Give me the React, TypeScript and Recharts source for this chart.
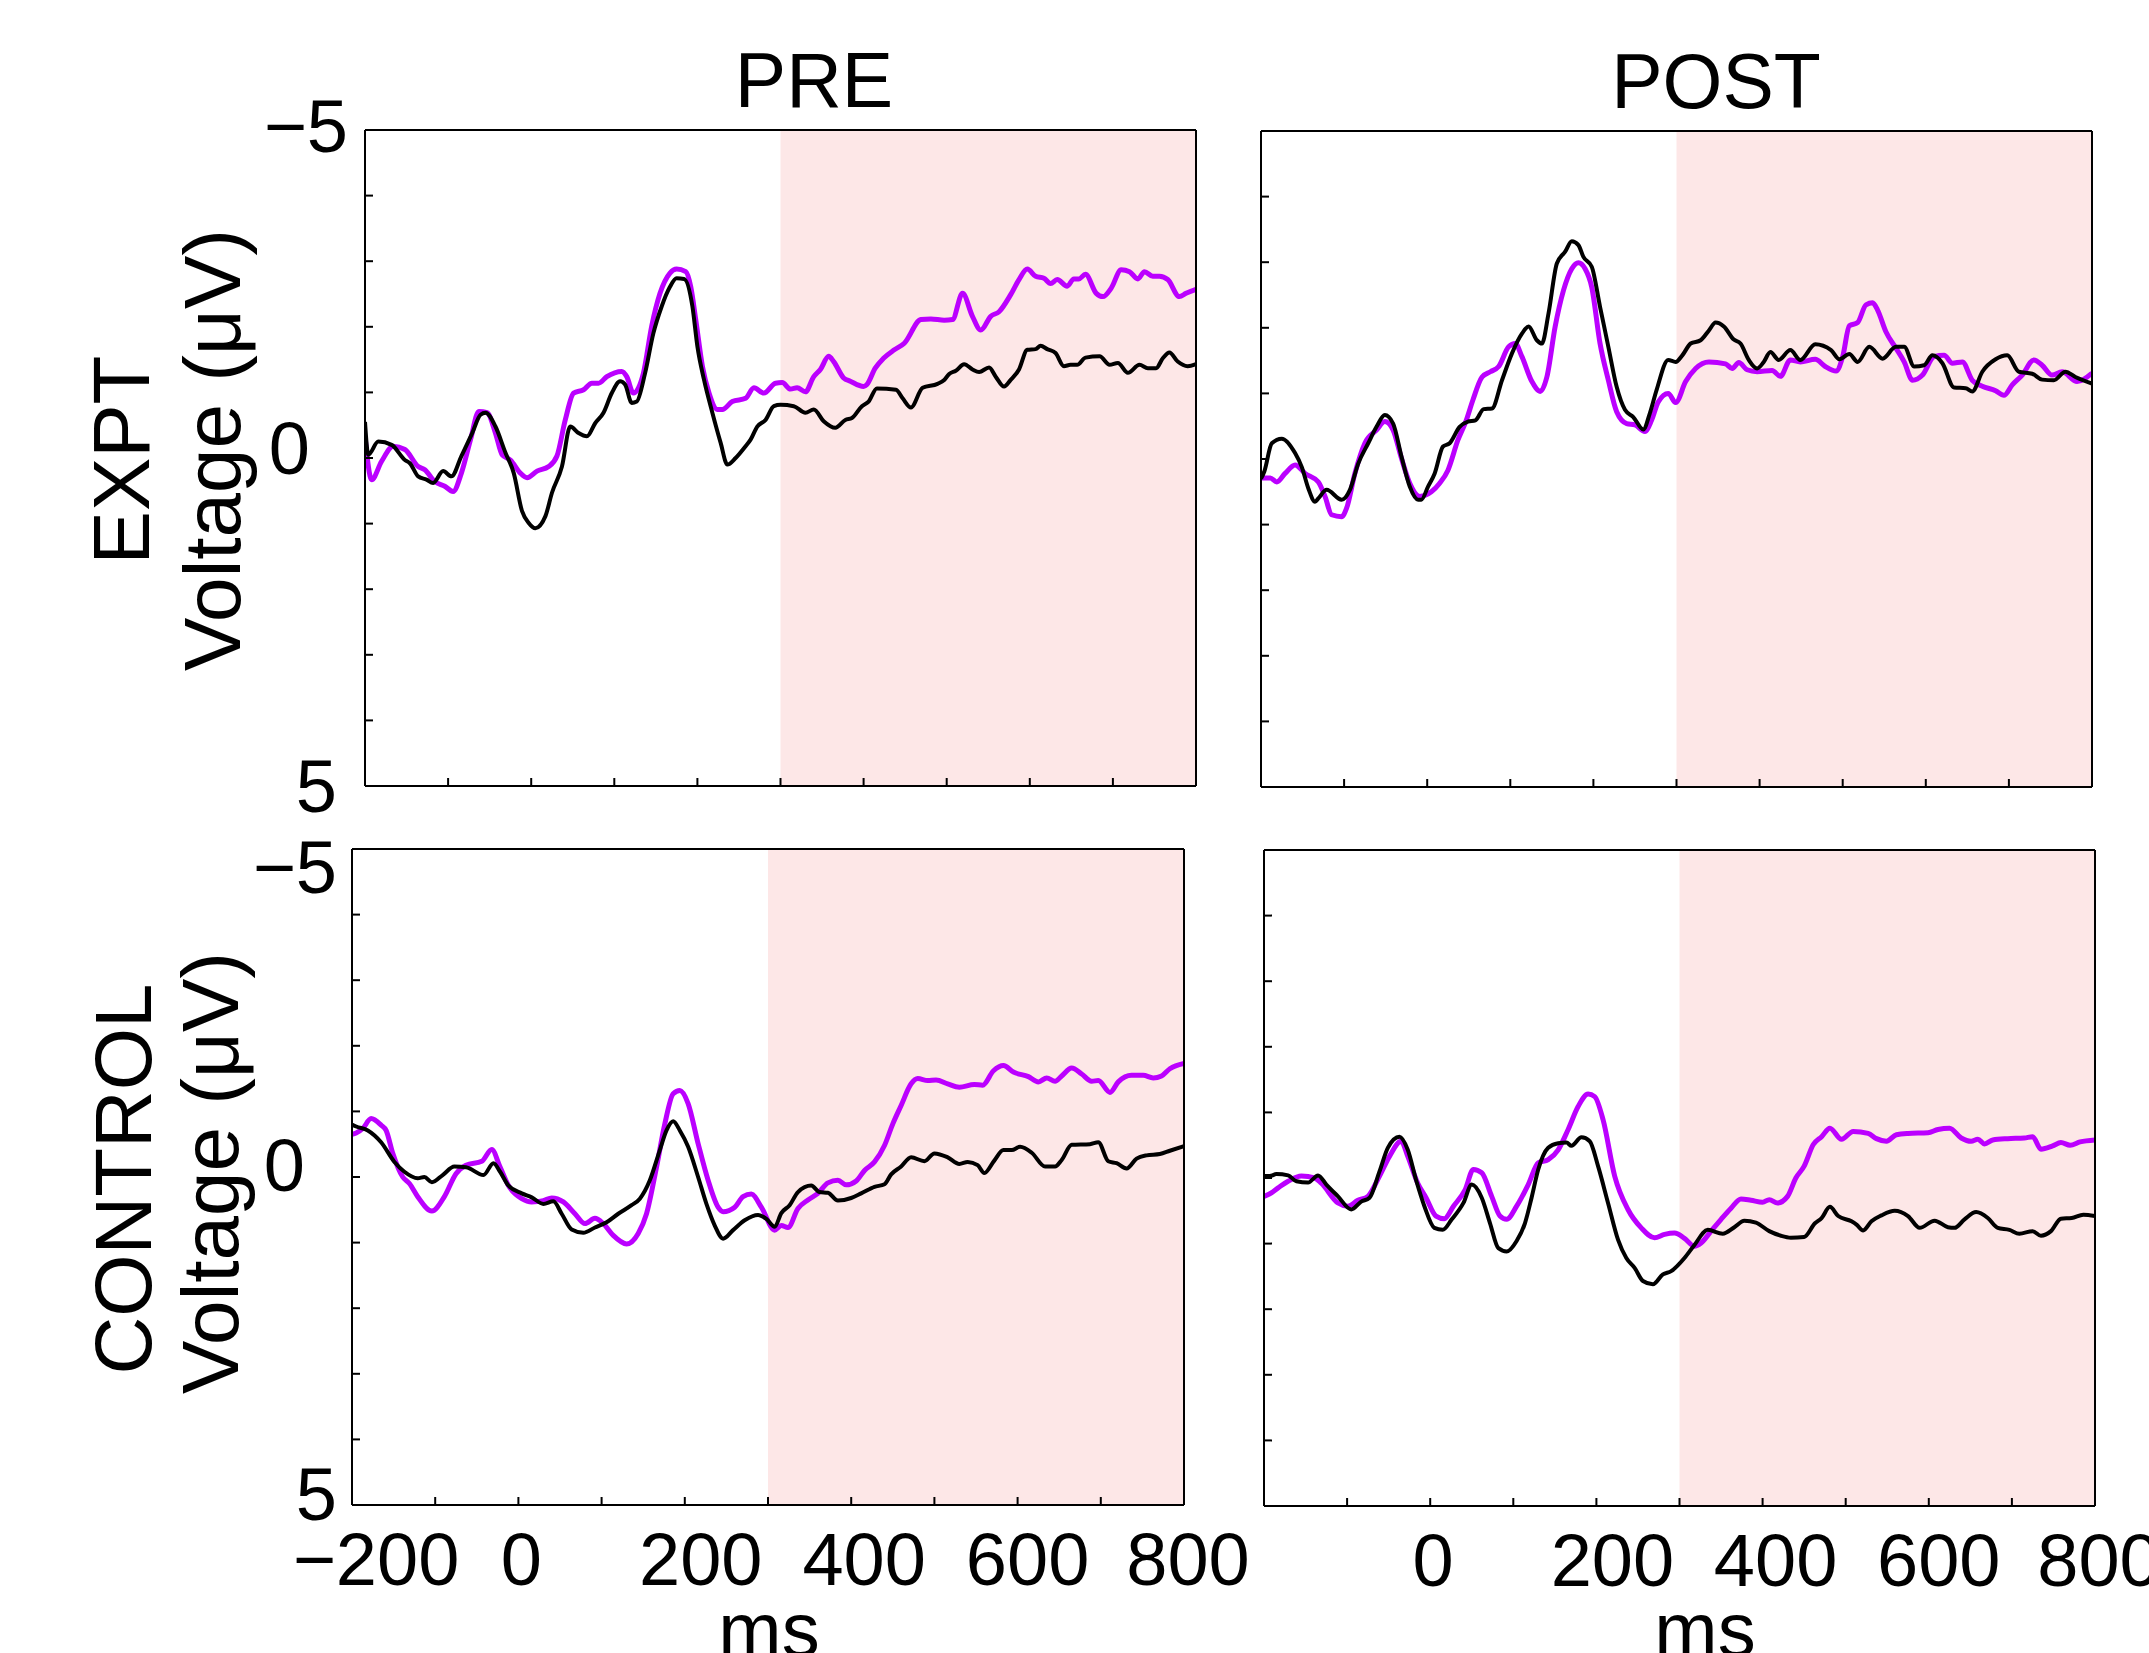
import React from "react";
import { LineChart, Line, XAxis, YAxis, ReferenceArea, ReferenceLine } from "recharts";

type Pt = [number, number];

// axes
const xTicks = [-200, -100, 0, 100, 200, 300, 400, 500, 600, 700, 800];
const xTickLabels = [-200, 0, 200, 400, 600, 800];
const yTicks = [-5, -4, -3, -2, -1, 0, 1, 2, 3, 4, 5];
const yTickLabels = [-5, 0, 5];
const windowStart = 300;
const windowEnd = 800;

// PRE / EXPT  [ms, µV]
const preExptViolet: Pt[] = [
  [-200, -0.33], [-192, 0.33], [-180, 0.05], [-166, -0.18], [-152, -0.13], [-136, 0.13], [-128, 0.18],
  [-116, 0.36], [-104, 0.43], [-94, 0.51], [-84, 0.23], [-73, -0.28], [-63, -0.71], [-53, -0.69],
  [-43, -0.38], [-35, -0.05], [-25, 0.03], [-13, 0.23], [-5, 0.3], [7, 0.2], [21, 0.13], [31, -0.03],
  [41, -0.58], [51, -0.99], [63, -1.04], [73, -1.14], [81, -1.14], [91, -1.24], [109, -1.32], [115, -1.24],
  [123, -0.99], [135, -1.29], [145, -2.01], [155, -2.51], [167, -2.82], [175, -2.88], [186, -2.84],
  [192, -2.61], [198, -2.11], [206, -1.4], [214, -0.99], [224, -0.74], [230, -0.74], [242, -0.86],
  [258, -0.91], [268, -1.07], [280, -0.99], [294, -1.14], [302, -1.15], [312, -1.05], [320, -1.07],
  [330, -1.01], [340, -1.24], [348, -1.35], [358, -1.55], [364, -1.47], [376, -1.22], [384, -1.17],
  [400, -1.09], [404, -1.12], [414, -1.37], [424, -1.52], [437, -1.65], [449, -1.75], [469, -2.11],
  [481, -2.12], [497, -2.1], [507, -2.11], [519, -2.51], [531, -2.16], [541, -1.95], [553, -2.16],
  [563, -2.23], [577, -2.49], [587, -2.72], [597, -2.88], [607, -2.77], [617, -2.74], [625, -2.66],
  [633, -2.72], [645, -2.62], [653, -2.73], [659, -2.73], [667, -2.8], [680, -2.51], [688, -2.46],
  [698, -2.59], [710, -2.87], [720, -2.84], [730, -2.73], [738, -2.84], [748, -2.77], [756, -2.77],
  [766, -2.72], [780, -2.46], [788, -2.51], [800, -2.57],
];
const preExptBlack: Pt[] = [
  [-200, -0.55], [-196, -0.05], [-184, -0.25], [-168, -0.2], [-152, 0.03], [-146, 0.08], [-136, 0.28],
  [-126, 0.33], [-118, 0.38], [-106, 0.2], [-96, 0.28], [-84, -0.03], [-71, -0.38], [-61, -0.66],
  [-55, -0.69], [-43, -0.48], [-31, -0.08], [-21, 0.23], [-11, 0.81], [-3, 0.99], [5, 1.07], [17, 0.89],
  [25, 0.53], [37, 0.13], [47, -0.48], [57, -0.38], [67, -0.33], [77, -0.53], [87, -0.69], [97, -0.99],
  [107, -1.17], [113, -1.12], [121, -0.84], [127, -0.86], [137, -1.29], [147, -1.9], [157, -2.31],
  [167, -2.61], [175, -2.74], [184, -2.73], [194, -2.31], [200, -1.7], [208, -1.19], [218, -0.69],
  [228, -0.23], [236, 0.1], [246, 0.0], [258, -0.18], [264, -0.28], [272, -0.48], [282, -0.58],
  [292, -0.79], [300, -0.81], [316, -0.79], [330, -0.69], [340, -0.74], [352, -0.56], [366, -0.46],
  [378, -0.58], [386, -0.61], [398, -0.79], [406, -0.86], [416, -1.06], [439, -1.04], [447, -0.91],
  [457, -0.77], [471, -1.07], [489, -1.13], [497, -1.19], [503, -1.28], [511, -1.33], [521, -1.43],
  [531, -1.35], [539, -1.31], [551, -1.38], [559, -1.24], [569, -1.09], [577, -1.19], [587, -1.35],
  [597, -1.65], [607, -1.66], [613, -1.71], [621, -1.66], [631, -1.6], [641, -1.4], [649, -1.42],
  [657, -1.42], [667, -1.53], [684, -1.55], [696, -1.42], [706, -1.45], [718, -1.3], [732, -1.42],
  [742, -1.37], [752, -1.37], [760, -1.52], [768, -1.61], [778, -1.47], [790, -1.4], [800, -1.43],
];

// POST / EXPT
const postExptViolet: Pt[] = [
  [-200, 0.29], [-189, 0.29], [-181, 0.35], [-171, 0.22], [-159, 0.09], [-147, 0.22], [-131, 0.35],
  [-123, 0.57], [-115, 0.85], [-103, 0.88], [-97, 0.75], [-87, 0.22], [-75, -0.24], [-61, -0.44],
  [-51, -0.57], [-41, -0.44], [-31, -0.01], [-21, 0.37], [-9, 0.57], [5, 0.5], [15, 0.37], [25, 0.17],
  [37, -0.29], [47, -0.59], [55, -0.9], [66, -1.25], [76, -1.33], [86, -1.41], [98, -1.71], [106, -1.76],
  [114, -1.56], [126, -1.18], [136, -1.03], [144, -1.25], [154, -2.02], [164, -2.57], [174, -2.9],
  [182, -2.99], [190, -2.9], [198, -2.62], [208, -1.76], [218, -1.2], [228, -0.72], [240, -0.54],
  [250, -0.52], [262, -0.42], [270, -0.59], [278, -0.87], [290, -1.0], [299, -0.86], [311, -1.18],
  [323, -1.38], [339, -1.48], [359, -1.45], [367, -1.38], [375, -1.47], [385, -1.36], [397, -1.33],
  [415, -1.35], [425, -1.26], [437, -1.51], [449, -1.48], [467, -1.52], [479, -1.41], [492, -1.34],
  [500, -1.56], [508, -2.03], [518, -2.08], [528, -2.35], [536, -2.38], [542, -2.27], [552, -1.94],
  [564, -1.69], [574, -1.48], [584, -1.2], [596, -1.28], [610, -1.56], [622, -1.58], [632, -1.46],
  [644, -1.48], [656, -1.2], [668, -1.11], [684, -1.04], [694, -0.97], [704, -1.13], [716, -1.28],
  [730, -1.51], [740, -1.43], [752, -1.28], [764, -1.33], [782, -1.18], [800, -1.31],
];
const postExptBlack: Pt[] = [
  [-200, 0.3], [-196, 0.19], [-187, -0.24], [-175, -0.31], [-159, -0.09], [-151, 0.12], [-143, 0.45],
  [-135, 0.65], [-131, 0.6], [-121, 0.47], [-103, 0.62], [-93, 0.47], [-83, 0.07], [-71, -0.24],
  [-61, -0.49], [-51, -0.67], [-41, -0.54], [-31, -0.04], [-21, 0.42], [-11, 0.62], [-7, 0.62], [1, 0.42],
  [9, 0.22], [19, -0.19], [27, -0.24], [39, -0.49], [49, -0.57], [58, -0.59], [68, -0.76], [78, -0.77],
  [90, -1.2], [102, -1.61], [114, -1.91], [122, -2.02], [132, -1.81], [138, -1.76], [146, -2.22],
  [156, -2.98], [166, -3.16], [174, -3.32], [182, -3.26], [188, -3.08], [198, -2.93], [208, -2.32],
  [218, -1.71], [228, -1.1], [238, -0.75], [248, -0.64], [260, -0.45], [268, -0.7], [276, -1.05],
  [290, -1.51], [299, -1.48], [307, -1.58], [317, -1.76], [329, -1.81], [339, -1.96], [347, -2.08],
  [357, -2.02], [369, -1.82], [377, -1.76], [387, -1.51], [397, -1.38], [405, -1.48], [413, -1.63],
  [423, -1.51], [437, -1.66], [449, -1.51], [467, -1.75], [486, -1.66], [496, -1.52], [508, -1.6],
  [518, -1.48], [532, -1.71], [548, -1.53], [564, -1.71], [574, -1.71], [586, -1.41], [598, -1.43],
  [608, -1.58], [620, -1.46], [634, -1.09], [648, -1.08], [656, -1.03], [668, -1.33], [684, -1.52],
  [698, -1.58], [712, -1.33], [728, -1.3], [740, -1.21], [754, -1.2], [768, -1.33], [780, -1.25],
  [800, -1.15],
];

// PRE / CONTROL
const preCtrlViolet: Pt[] = [
  [-200, -0.65], [-195, -0.67], [-187, -0.74], [-177, -0.89], [-165, -0.79], [-159, -0.71], [-151, -0.36],
  [-139, 0.0], [-131, 0.1], [-121, 0.3], [-104, 0.52], [-89, 0.3], [-75, -0.05], [-63, -0.18], [-44, -0.24],
  [-32, -0.42], [-22, -0.15], [-12, 0.13], [4, 0.33], [16, 0.38], [30, 0.36], [40, 0.32], [54, 0.38],
  [68, 0.56], [80, 0.71], [92, 0.63], [102, 0.71], [114, 0.89], [130, 1.02], [144, 0.86], [154, 0.56],
  [166, -0.15], [176, -0.81], [186, -1.27], [194, -1.32], [204, -1.12], [216, -0.51], [228, 0.05],
  [240, 0.46], [246, 0.53], [260, 0.46], [270, 0.3], [280, 0.26], [292, 0.46], [308, 0.81], [316, 0.74],
  [324, 0.77], [336, 0.48], [348, 0.35], [360, 0.25], [372, 0.09], [384, 0.05], [394, 0.12], [406, 0.06],
  [416, -0.1], [428, -0.23], [440, -0.48], [450, -0.81], [460, -1.09], [472, -1.42], [480, -1.5],
  [492, -1.47], [502, -1.48], [516, -1.42], [530, -1.37], [548, -1.41], [558, -1.4], [571, -1.62],
  [583, -1.7], [595, -1.6], [613, -1.53], [625, -1.45], [635, -1.51], [645, -1.46], [653, -1.54],
  [665, -1.66], [677, -1.57], [689, -1.46], [697, -1.47], [711, -1.29], [721, -1.45], [737, -1.55],
  [751, -1.55], [763, -1.51], [773, -1.54], [783, -1.65], [800, -1.73],
];
const preCtrlBlack: Pt[] = [
  [-200, -0.8], [-195, -0.77], [-181, -0.71], [-165, -0.53], [-149, -0.23], [-137, -0.08], [-121, 0.02],
  [-113, 0.0], [-104, 0.08], [-91, -0.03], [-77, -0.16], [-63, -0.15], [-42, -0.03], [-30, -0.21],
  [-22, -0.08], [-12, 0.13], [4, 0.25], [16, 0.31], [30, 0.41], [42, 0.37], [52, 0.56], [64, 0.8],
  [78, 0.85], [92, 0.77], [106, 0.69], [120, 0.56], [136, 0.43], [146, 0.33], [158, 0.05], [170, -0.41],
  [178, -0.71], [186, -0.85], [194, -0.71], [204, -0.46], [216, 0.0], [226, 0.41], [236, 0.74],
  [246, 0.94], [258, 0.81], [272, 0.66], [288, 0.58], [298, 0.64], [308, 0.76], [316, 0.55], [326, 0.43],
  [336, 0.23], [352, 0.13], [362, 0.23], [372, 0.24], [384, 0.36], [400, 0.32], [412, 0.25], [428, 0.15],
  [440, 0.11], [448, -0.04], [460, -0.16], [472, -0.3], [488, -0.24], [500, -0.36], [516, -0.3],
  [530, -0.2], [540, -0.23], [552, -0.18], [560, -0.06], [572, -0.25], [583, -0.41], [593, -0.41],
  [603, -0.46], [617, -0.37], [633, -0.16], [645, -0.16], [653, -0.26], [665, -0.49], [687, -0.5],
  [697, -0.53], [709, -0.24], [719, -0.21], [731, -0.13], [743, -0.28], [755, -0.33], [771, -0.35],
  [783, -0.4], [800, -0.47],
];

// POST / CONTROL
const postCtrlViolet: Pt[] = [
  [-200, 0.28], [-193, 0.24], [-183, 0.15], [-171, 0.05], [-155, -0.03], [-139, 0.0], [-131, 0.08],
  [-111, 0.38], [-99, 0.43], [-87, 0.34], [-75, 0.28], [-61, -0.03], [-49, -0.33], [-35, -0.56],
  [-27, -0.33], [-15, 0.08], [-5, 0.3], [7, 0.58], [17, 0.62], [28, 0.43], [42, 0.18], [52, -0.13],
  [62, -0.08], [74, 0.28], [84, 0.58], [92, 0.63], [104, 0.43], [118, 0.1], [130, -0.23], [142, -0.28],
  [154, -0.43], [166, -0.74], [178, -1.09], [190, -1.28], [198, -1.24], [208, -0.89], [222, -0.03],
  [238, 0.48], [254, 0.76], [270, 0.91], [282, 0.86], [294, 0.84], [306, 0.92], [318, 1.04], [326, 0.99],
  [338, 0.81], [350, 0.63], [362, 0.46], [374, 0.32], [386, 0.34], [400, 0.37], [408, 0.33], [418, 0.38],
  [430, 0.28], [440, 0.0], [450, -0.18], [461, -0.51], [471, -0.63], [481, -0.76], [495, -0.59],
  [509, -0.71], [527, -0.68], [537, -0.6], [549, -0.56], [561, -0.66], [575, -0.68], [599, -0.69],
  [611, -0.74], [625, -0.76], [639, -0.61], [651, -0.56], [659, -0.59], [667, -0.52], [677, -0.58],
  [695, -0.6], [715, -0.61], [725, -0.63], [735, -0.44], [749, -0.49], [759, -0.54], [770, -0.5],
  [782, -0.55], [800, -0.58],
];
const postCtrlBlack: Pt[] = [
  [-200, -0.03], [-193, -0.03], [-185, -0.06], [-171, -0.04], [-161, 0.05], [-147, 0.07], [-135, -0.04],
  [-125, 0.1], [-111, 0.28], [-95, 0.48], [-83, 0.36], [-73, 0.3], [-61, -0.1], [-51, -0.46], [-37, -0.63],
  [-27, -0.43], [-17, 0.03], [-7, 0.43], [5, 0.76], [15, 0.79], [26, 0.63], [40, 0.38], [50, 0.1],
  [62, 0.3], [72, 0.69], [82, 1.07], [92, 1.12], [104, 0.96], [114, 0.69], [122, 0.3], [130, -0.13],
  [142, -0.46], [154, -0.53], [164, -0.54], [170, -0.49], [182, -0.62], [192, -0.56], [202, -0.18],
  [214, 0.38], [226, 0.94], [236, 1.22], [246, 1.37], [256, 1.57], [268, 1.62], [280, 1.47], [290, 1.42],
  [306, 1.22], [318, 1.02], [334, 0.79], [352, 0.85], [366, 0.75], [378, 0.65], [392, 0.68], [408, 0.81],
  [422, 0.88], [434, 0.91], [450, 0.9], [463, 0.69], [471, 0.61], [481, 0.44], [491, 0.58], [507, 0.66],
  [513, 0.71], [521, 0.8], [531, 0.66], [543, 0.57], [559, 0.5], [575, 0.58], [589, 0.76], [607, 0.65],
  [623, 0.75], [631, 0.76], [643, 0.63], [657, 0.52], [671, 0.61], [683, 0.76], [697, 0.79], [709, 0.85],
  [725, 0.81], [735, 0.88], [747, 0.81], [759, 0.62], [772, 0.61], [786, 0.56], [800, 0.58],
];

const FONT = '"Liberation Sans", Arial, Helvetica, sans-serif';
const VIOLET = "#bb00ff";
const SHADE = "#fde7e7";

// room around each plot box for the axes
const ML = 130;
const MR = 80;
const MT = 60;
const MB = 110;

const fmt = (v: number) => (v < 0 ? "\u2212" + Math.abs(v) : String(v));
const toRows = (pts: Pt[]) => pts.map(([t, v]) => ({ t, v }));

// small per-row nudges so the y labels sit like in the original figure
const yNudge: Record<string, Record<number, { gap: number; dy: number }>> = {
  top: { [-5]: { gap: 17, dy: -4 }, 0: { gap: 55, dy: -10 }, 5: { gap: 28, dy: 0 } },
  bottom: { [-5]: { gap: 15, dy: 18 }, 0: { gap: 47, dy: -12 }, 5: { gap: 15, dy: -11 } },
};
const xNudge: Record<number, number> = { [-200]: 24, 0: 3, 200: 16, 400: 13, 600: 10, 800: 4 };

type PanelProps = {
  x: number;
  y: number;
  w: number;
  h: number;
  violet: Pt[];
  black: Pt[];
  row: "top" | "bottom";
  xLabels: number[];
  yLabels: number[];
};

function Panel({ x, y, w, h, violet, black, row, xLabels, yLabels }: PanelProps) {
  const yTick = (p: any) => {
    const v = p.payload.value;
    if (!yLabels.includes(v)) return <g />;
    const n = yNudge[row][v];
    return (
      <text x={p.x - n.gap} y={p.y + n.dy} textAnchor="end" dominantBaseline="central"
        fontSize={74} fontFamily={FONT} fill="#000">
        {fmt(v)}
      </text>
    );
  };
  const xTick = (p: any) => {
    const v = p.payload.value;
    if (!xLabels.includes(v)) return <g />;
    return (
      <text x={p.x + (xNudge[v] || 0)} y={p.y + 80} textAnchor="middle"
        fontSize={74} fontFamily={FONT} fill="#000">
        {fmt(v)}
      </text>
    );
  };

  return (
    <div style={{ position: "absolute", left: x - ML, top: y - MT }}>
      <LineChart width={w + ML + MR} height={h + MT + MB}
        margin={{ top: MT, right: 0, bottom: 0, left: 0 }}>
        {/* analysis window */}
        <ReferenceArea yAxisId="l" x1={windowStart} x2={windowEnd} y1={-5} y2={5}
          fill={SHADE} fillOpacity={1} stroke="none" ifOverflow="visible" />
        <XAxis dataKey="t" type="number" domain={[-200, 800]} ticks={xTicks} interval={0}
          height={MB} allowDataOverflow
          axisLine={{ stroke: "#000", strokeWidth: 2 }}
          tickLine={{ stroke: "#000", strokeWidth: 2 }}
          tickSize={-8} tickMargin={8} tick={xTick} />
        <YAxis yAxisId="l" type="number" domain={[-5, 5]} reversed ticks={yTicks} interval={0}
          width={ML} allowDataOverflow
          axisLine={{ stroke: "#000", strokeWidth: 2 }}
          tickLine={{ stroke: "#000", strokeWidth: 2 }}
          tickSize={-8} tickMargin={8} tick={yTick} />
        <YAxis yAxisId="r" orientation="right" type="number" domain={[-5, 5]} reversed
          ticks={yTicks} interval={0} width={MR}
          axisLine={{ stroke: "#000", strokeWidth: 2 }}
          tickLine={{ stroke: "#000", strokeWidth: 2 }}
          tickSize={-8} tickMargin={8} tick={() => <g />} />
        <ReferenceLine yAxisId="l" y={-5} stroke="#000" strokeWidth={2} />
        <Line yAxisId="l" data={toRows(violet)} dataKey="v" type="monotone" dot={false} activeDot={false}
          stroke={VIOLET} strokeWidth={5} strokeLinejoin="round" isAnimationActive={false} />
        <Line yAxisId="l" data={toRows(black)} dataKey="v" type="monotone" dot={false} activeDot={false}
          stroke="#000" strokeWidth={4} strokeLinejoin="round" isAnimationActive={false} />
      </LineChart>
    </div>
  );
}

export default function App() {
  const txt = { fontFamily: FONT, fill: "#000" };
  return (
    <div style={{ position: "absolute", left: 0, top: 0, width: 2149, height: 1653,
      background: "#fff", overflow: "hidden" }}>
      <Panel x={365} y={130} w={831} h={656} violet={preExptViolet} black={preExptBlack}
        row="top" xLabels={[]} yLabels={yTickLabels} />
      <Panel x={1261} y={131} w={831} h={656} violet={postExptViolet} black={postExptBlack}
        row="top" xLabels={[]} yLabels={[]} />
      <Panel x={352} y={849} w={832} h={656} violet={preCtrlViolet} black={preCtrlBlack}
        row="bottom" xLabels={xTickLabels} yLabels={yTickLabels} />
      <Panel x={1264} y={850} w={831} h={656} violet={postCtrlViolet} black={postCtrlBlack}
        row="bottom" xLabels={xTickLabels.filter((v) => v !== -200)} yLabels={[]} />

      <svg width={2149} height={1653} style={{ position: "absolute", left: 0, top: 0, pointerEvents: "none" }}>
        {/* column titles */}
        <text x={814} y={107} textAnchor="middle" fontSize={77} {...txt}>PRE</text>
        <text x={1716} y={108} textAnchor="middle" fontSize={77} {...txt}>POST</text>

        {/* row labels */}
        <text transform="translate(149,460) rotate(-90)" textAnchor="middle" fontSize={80} {...txt}>EXPT</text>
        <text transform="translate(240,450) rotate(-90)" textAnchor="middle" fontSize={80} {...txt}>Voltage (μV)</text>
        <text transform="translate(151,1179) rotate(-90)" textAnchor="middle" fontSize={80} {...txt}>CONTROL</text>
        <text transform="translate(238,1173) rotate(-90)" textAnchor="middle" fontSize={80} {...txt}>Voltage (μV)</text>

        {/* x axis titles */}
        <text x={769} y={1656} textAnchor="middle" fontSize={76} {...txt}>ms</text>
        <text x={1705} y={1656} textAnchor="middle" fontSize={76} {...txt}>ms</text>
      </svg>
    </div>
  );
}
